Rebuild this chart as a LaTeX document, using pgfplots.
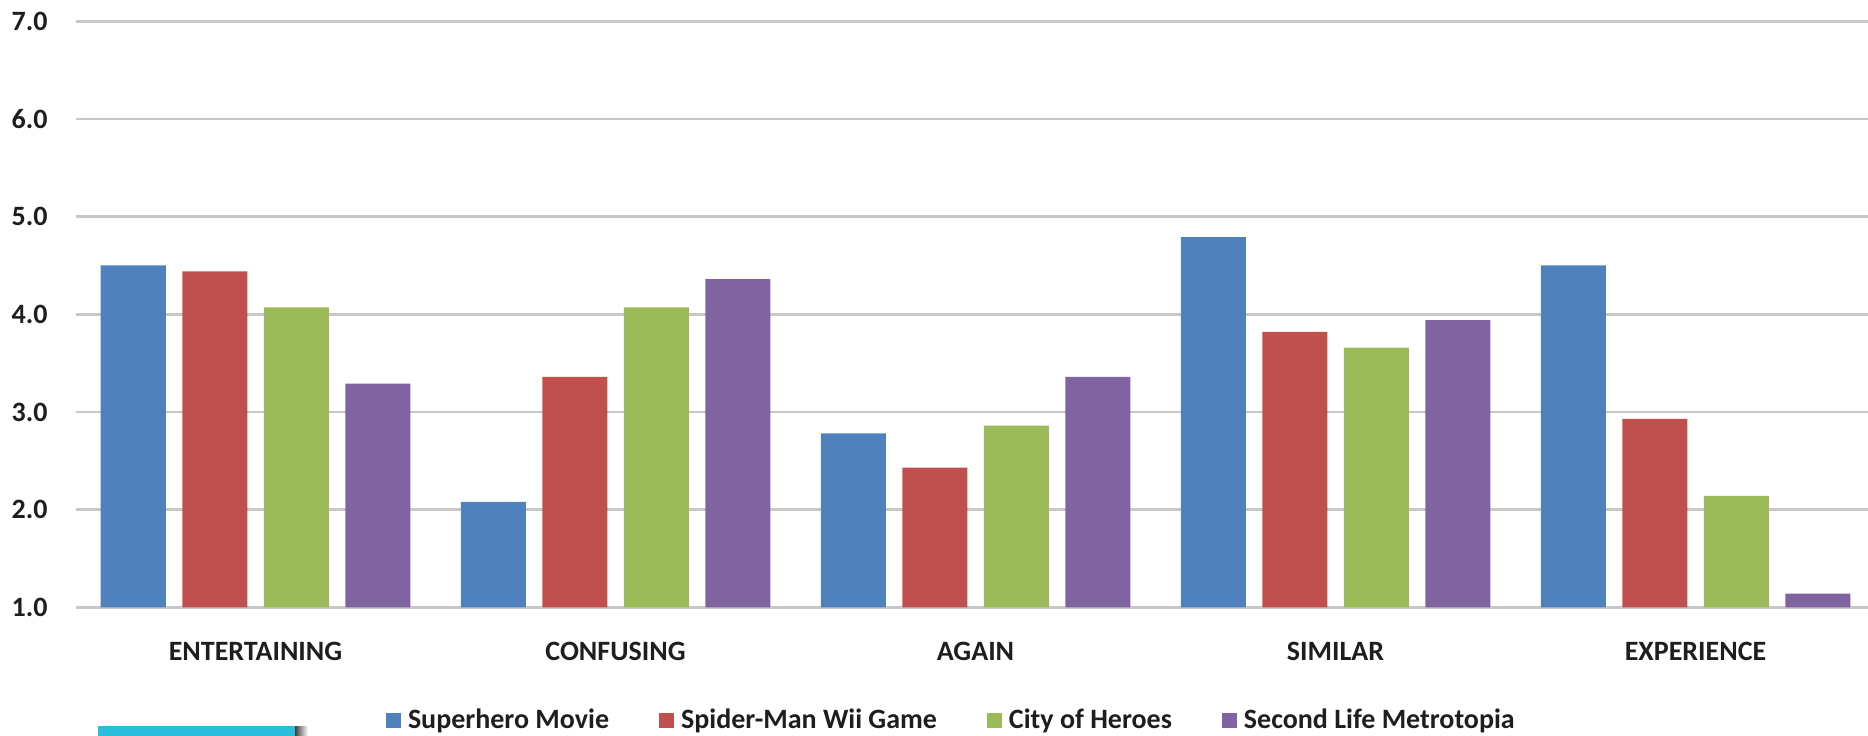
\documentclass[border=0pt]{standalone}
\usepackage{pgfplots}
\pgfplotsset{compat=1.18}
\usepackage{fontspec}
\setmainfont{Carlito}
\definecolor{sblue}{HTML}{4F81BD}
\definecolor{sred}{HTML}{C0504D}
\definecolor{sgreen}{HTML}{9BBB59}
\definecolor{spurple}{HTML}{8064A2}
\definecolor{gridgray}{HTML}{C8C8C8}
\definecolor{txt}{HTML}{1E1E1E}
\definecolor{cyanbar}{HTML}{2ABEDC}
\begin{document}
\begin{tikzpicture}[x=1pt,y=1pt]
\useasboundingbox (0,0) rectangle (934,367.5);
\begin{axis}[
  at={(37.75pt,63.85pt)}, anchor=south west,
  scale only axis, width=900pt, height=293pt,
  xmin=-0.5, xmax=4.5, ymin=1, ymax=7,
  ytick={1,2,...,7},
  xtick={0,1,2,3,4},
  xticklabels={ENTERTAINING,CONFUSING,AGAIN,SIMILAR,EXPERIENCE},
  ymajorgrids, grid style={line width=1.2pt, color=gridgray},
  axis line style={draw=none},
  major tick length=0pt,
  tick style={draw=none},
  ybar=8.25pt, bar width=32.5pt,
  tick label style={font=\bfseries\fontsize{14}{16}\selectfont, text=txt, inner sep=0pt},
  yticklabel style={anchor=east, xshift=-13.75pt, /pgf/number format/fixed, /pgf/number format/fixed zerofill, /pgf/number format/precision=1, /pgf/number format/assume math mode=true},
  xticklabel style={anchor=base, yshift=-26.4pt},
  legend columns=-1,
  legend image code/.code={\fill[#1] (0pt,-3.75pt) rectangle (7.5pt,3.75pt);},
  legend style={at={(0.1725,-0.1932)}, anchor=west, draw=none, fill=none, inner sep=0pt, outer sep=0pt,
    font=\bfseries\fontsize{14}{16}\selectfont, text=txt,
    /tikz/every odd column/.append style={column sep=2pt},
    /tikz/every even column/.append style={column sep=23.5pt},
    nodes={inner sep=1.5pt}},
]
\addplot[fill=sblue, draw=none] coordinates {(0,4.50) (1,2.08) (2,2.78) (3,4.79) (4,4.50)};
\addplot[fill=sred, draw=none] coordinates {(0,4.44) (1,3.36) (2,2.43) (3,3.82) (4,2.93)};
\addplot[fill=sgreen, draw=none] coordinates {(0,4.07) (1,4.07) (2,2.86) (3,3.66) (4,2.14)};
\addplot[fill=spurple, draw=none] coordinates {(0,3.29) (1,4.36) (2,3.36) (3,3.94) (4,1.14)};
\legend{Superhero Movie, Spider-Man Wii Game, City of Heroes, Second Life Metrotopia}
\end{axis}
\fill[cyanbar] (49,-5) rectangle (147.5,4.5);
\shade[left color=black!75, right color=white] (147.5,-5) rectangle (154,4.5);
\end{tikzpicture}
\end{document}
